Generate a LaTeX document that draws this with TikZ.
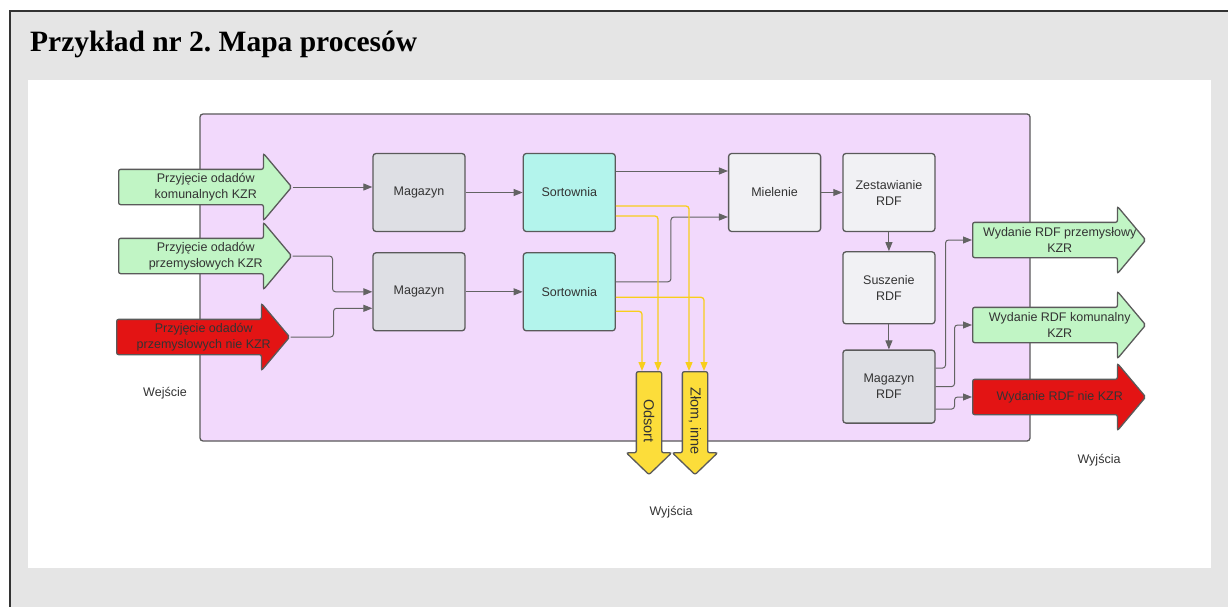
\documentclass[tikz,border=0pt]{standalone}
\usepackage{fontspec}
\setmainfont{Liberation Sans}
\newfontfamily\titlefont{Liberation Serif}
\usetikzlibrary{shapes.arrows,positioning,arrows.meta}

\definecolor{pagegrey}{HTML}{E5E5E5}
\definecolor{procbg}{HTML}{F2D9FC}
\definecolor{kzrgreen}{HTML}{C1F5C5}
\definecolor{nokzr}{HTML}{E31414}
\definecolor{storegrey}{HTML}{DEDFE4}
\definecolor{sortcyan}{HTML}{B3F4EC}
\definecolor{steplight}{HTML}{F1F1F4}
\definecolor{wasteyel}{HTML}{FCDD3A}
\definecolor{yelline}{HTML}{F8CE1C}
\definecolor{edgegrey}{HTML}{5A5A5A}
\definecolor{conngrey}{HTML}{636363}
\definecolor{txtgrey}{HTML}{333333}
\newcommand{\boxfont}{\fontsize{12.5}{16}\selectfont}

\tikzset{
  proc/.style={draw=edgegrey, line width=1.3pt, rounded corners=3pt,
    minimum width=92pt, minimum height=78pt, align=center,
    text=txtgrey, font=\boxfont},
  flowarr/.style={single arrow, draw=edgegrey, line width=1.3pt,
    rounded corners=2pt, inner ysep=17pt, inner xsep=0pt,
    minimum height=173pt, single arrow head extend=16pt,
    single arrow tip angle=100, anchor=tail},
  droparr/.style={single arrow, draw=edgegrey, fill=wasteyel,
    line width=1.3pt, rounded corners=2pt, inner ysep=12pt,
    inner xsep=0pt, minimum height=103pt,
    single arrow head extend=10pt, single arrow tip angle=92,
    rotate=-90, anchor=tail},
  arrtext/.style={align=center, text=txtgrey, font=\boxfont, inner sep=0pt},
  htext/.style={arrtext, xshift=8pt},
  vtext/.style={arrtext, font=\fontsize{14.5}{16}\selectfont, yshift=-4pt, rotate=-90},
  note/.style={text=txtgrey, font=\boxfont},
  conn/.style={draw=conngrey, line width=1pt, rounded corners=3pt,
    -{Triangle[length=9pt,width=7pt]}},
  waste/.style={conn, draw=yelline, line width=1.3pt},
}

\begin{document}
\begin{tikzpicture}[x=1pt,y=-1pt]
  \useasboundingbox (0,0) rectangle (1228,607);
  % Page and frame
  \fill[pagegrey] (10,11) rectangle (1228,607);
  \draw[line width=1.5pt, black!80] (10,607) -- (10,11) -- (1228,11);
  \fill[white] (28,80) rectangle (1211,568);
  \node[anchor=base west, inner sep=0pt,
    font=\titlefont\bfseries\fontsize{29.5}{31}\selectfont] (title) at (30,52)
    {Przykład nr 2.\ Mapa procesów};
  \draw[draw=edgegrey, fill=procbg, line width=1.3pt, rounded corners=3pt]
    (200,114) rectangle (1030,441);

  % Define nodes
  \node[flowarr, fill=kzrgreen,
    label={[htext]center:Przyjęcie odadów\\komunalnych KZR}] (in1) at (118,187) {};
  \node[flowarr, fill=kzrgreen,
    label={[htext]center:Przyjęcie odadów\\przemysłowych KZR}] (in2) at (118,256) {};
  \node[flowarr, fill=nokzr,
    label={[htext]center:Przyjęcie odadów\\przemyslowych nie KZR}] (in3) at (116,337) {};

  \node[proc, fill=storegrey] (mag1) at (419,192.5) {Magazyn};
  \node[proc, fill=storegrey, below=20pt of mag1] (mag2) {Magazyn};
  \node[proc, fill=sortcyan, right=57pt of mag1] (sort1) {Sortownia};
  \node[proc, fill=sortcyan, right=57pt of mag2] (sort2) {Sortownia};
  \node[proc, fill=steplight, right=112pt of sort1] (miel) {Mielenie};
  \node[proc, fill=steplight, right=21pt of miel] (zest) {Zestawianie\\RDF};
  \node[proc, fill=steplight, minimum height=72pt, below=19pt of zest] (sus) {Suszenie\\RDF};
  \node[proc, fill=storegrey, minimum height=73pt, below=25pt of sus] (magrdf) {Magazyn\\RDF};

  \node[droparr, label={[vtext]center:Odsort}] (ods) at (649,371) {};
  \node[droparr, label={[vtext]center:{Złom, inne}}] (zlom) at (695,371) {};

  \node[flowarr, fill=kzrgreen,
    label={[htext]center:Wydanie RDF przemysłowy\\KZR}] (out1) at (972,240) {};
  \node[flowarr, fill=kzrgreen,
    label={[htext]center:Wydanie RDF komunalny\\KZR}] (out2) at (972,325) {};
  \node[flowarr, fill=nokzr,
    label={[htext]center:Wydanie RDF nie KZR}] (out3) at (972,397) {};

  \node[note] (wej) at (165,393) {Wejście};
  \node[note] (wyjR) at (1099,460) {Wyjścia};
  \node[note] (wyjB) at (671,512) {Wyjścia};

  % Connect the nodes
  \draw[conn] (in1.tip) -- (in1.tip -| mag1.west);
  \draw[conn] (in2.tip) -- ++(40,0) |- (mag2.west);
  \draw[conn] (in3.tip) -- ++(43,0) |- ([yshift=-16.5pt]mag2.west);
  \draw[conn] (mag1) -- (sort1);
  \draw[conn] (mag2) -- (sort2);
  \draw[conn] ([yshift=21.5pt]sort1.east) -- ([yshift=21.5pt]miel.west);
  \draw[conn] ([yshift=10pt]sort2.east) -- ++(55,0) |- ([yshift=-24.5pt]miel.west);
  \draw[conn] (miel) -- (zest);
  \draw[conn] (zest) -- (sus);
  \draw[conn] (sus) -- (magrdf);
  \draw[conn] ([yshift=18.5pt]magrdf.east) -- ++(10,0) |- (out1.tail);
  \draw[conn] (magrdf.east) -- ++(19,0) |- (out2.tail);
  \draw[conn] ([yshift=-22.5pt]magrdf.east) -- ++(19,0) |- (out3.tail);

  % Waste streams
  \draw[waste] ([yshift=-13.5pt]sort1.east) -| ([xshift=-6pt]zlom.tail);
  \draw[waste] ([yshift=-23.5pt]sort1.east) -| ([xshift=9pt]ods.tail);
  \draw[waste] ([yshift=-5.5pt]sort2.east) -| ([xshift=9pt]zlom.tail);
  \draw[waste] ([yshift=-19.5pt]sort2.east) -| ([xshift=-7pt]ods.tail);
\end{tikzpicture}
\end{document}
